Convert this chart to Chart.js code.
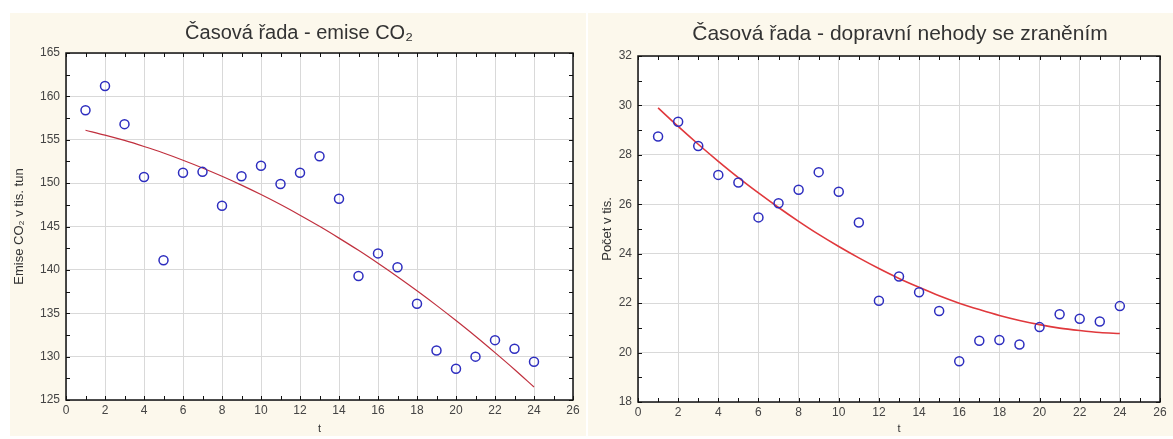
<!DOCTYPE html>
<html lang="cs">
<head>
<meta charset="utf-8">
<title>Časové řady</title>
<script src="https://cdn.jsdelivr.net/npm/chart.js@4.4.1/dist/chart.umd.min.js"></script>
<style>
  html, body { margin: 0; padding: 0; background: #ffffff; }
  .panel { position: absolute; background: #fcf8ec; }
  #p1 { left: 10px; top: 13px; width: 576px; height: 423px; }
  #p2 { left: 588px; top: 13px; width: 585px; height: 423px; }
  canvas { display: block; }
</style>
</head>
<body>
<div class="panel" id="p1"><canvas id="c1" width="576" height="423"></canvas></div>
<div class="panel" id="p2"><canvas id="c2" width="585" height="423"></canvas></div>
<script>
// Time index (years 1..24)
const t = [1,2,3,4,5,6,7,8,9,10,11,12,13,14,15,16,17,18,19,20,21,22,23,24];

// CO2 emissions, thousand tonnes
const co2 = [158.4,161.2,156.8,150.7,141.1,151.2,151.3,147.4,150.8,152.0,149.9,151.2,
             153.1,148.2,139.3,141.9,140.3,136.1,130.7,128.6,130.0,131.9,130.9,129.4];
// Quadratic trend of CO2 emissions
const co2Trend = [156.10,155.54,154.92,154.22,153.47,152.64,151.75,150.79,149.77,148.68,147.53,146.30,
                  145.02,143.66,142.25,140.76,139.21,137.59,135.91,134.16,132.35,130.46,128.52,126.50];

// Road accidents with injury, thousands
const nehody = [28.74,29.34,28.36,27.19,26.88,25.47,26.04,26.59,27.30,26.51,25.26,22.10,
                23.08,22.44,21.68,19.65,20.48,20.51,20.33,21.03,21.55,21.37,21.26,21.88];
// Quadratic trend of accidents
const nehodyTrend = [29.90,29.15,28.43,27.74,27.08,26.46,25.87,25.31,24.78,24.29,23.83,23.40,
                     23.00,22.64,22.30,22.00,21.74,21.50,21.30,21.13,20.99,20.89,20.81,20.77];

// Axis ranges and tick steps
const xTicks = { min: 0, max: 26, step: 2 };
const yTicksCO2 = { min: 125, max: 165, step: 5 };
const yTicksNehody = { min: 18, max: 32, step: 2 };

const FONT = "'Liberation Sans', Arial, sans-serif";

// Black frame around the plot area plus small inward tick marks on all four sides
const framePlugin = {
  id: 'frame',
  afterDraw(chart, args, opts) {
    const { ctx, chartArea: a, scales } = chart;
    ctx.save();
    ctx.strokeStyle = '#111';
    ctx.lineWidth = 1;
    ctx.beginPath();
    const xs = scales.x, ys = scales.y;
    for (let v = xs.min; v <= xs.max + 1e-9; v += opts.xMinor) {
      const px = Math.round(xs.getPixelForValue(v)) + 0.5;
      ctx.moveTo(px, a.bottom); ctx.lineTo(px, a.bottom - 4);
      ctx.moveTo(px, a.top); ctx.lineTo(px, a.top + 4);
    }
    for (let v = ys.min; v <= ys.max + 1e-9; v += opts.yMinor) {
      const py = Math.round(ys.getPixelForValue(v)) + 0.5;
      ctx.moveTo(a.left, py); ctx.lineTo(a.left + 4, py);
      ctx.moveTo(a.right, py); ctx.lineTo(a.right - 4, py);
    }
    ctx.stroke();
    ctx.lineWidth = 1.5;
    ctx.strokeRect(a.left, a.top, a.right - a.left, a.bottom - a.top);
    ctx.restore();
  }
};

// White plot area on the cream panel
const plotBgPlugin = {
  id: 'plotBg',
  beforeDraw(chart) {
    const { ctx, chartArea: a } = chart;
    ctx.save();
    ctx.fillStyle = '#ffffff';
    ctx.fillRect(a.left, a.top, a.right - a.left, a.bottom - a.top);
    ctx.restore();
  }
};

// Centre the title block horizontally on a chosen x position
const titleCenterPlugin = {
  id: 'titleCenter',
  afterLayout(chart, args, opts) {
    const tb = chart.titleBlock;
    if (!tb) return;
    const half = Math.min(opts.center, chart.width - opts.center);
    tb.left = opts.center - half;
    tb.right = opts.center + half;
    tb.width = tb.right - tb.left;
  }
};

function makeChart(id, cfg) {
  const pts = t.map((x, i) => ({ x, y: cfg.values[i] }));
  const trend = t.map((x, i) => ({ x, y: cfg.trend[i] }));
  return new Chart(document.getElementById(id), {
    type: 'scatter',
    data: {
      datasets: [
        {
          data: trend,
          showLine: true,
          borderColor: cfg.lineColor,
          borderWidth: cfg.lineWidth,
          pointRadius: 0,
          cubicInterpolationMode: 'monotone',
          fill: false,
          order: 2
        },
        {
          data: pts,
          pointStyle: 'circle',
          pointRadius: 4.5,
          pointBorderWidth: 1.5,
          pointBorderColor: '#2d2dbf',
          pointBackgroundColor: 'rgba(0,0,0,0)',
          order: 1
        }
      ]
    },
    options: {
      responsive: false,
      animation: false,
      layout: { padding: { left: 0, right: 13, top: 0, bottom: 0 } },
      plugins: {
        legend: { display: false },
        tooltip: { enabled: false },
        title: {
          display: true,
          text: cfg.title,
          color: '#333',
          font: { family: FONT, size: cfg.titleSize, weight: 'normal', lineHeight: 1.2 },
          padding: cfg.titlePadding
        },
        titleCenter: { center: cfg.titleCenter },
        frame: { xMinor: 1, yMinor: cfg.yMinor }
      },
      scales: {
        x: {
          type: 'linear',
          min: xTicks.min, max: xTicks.max,
          afterFit(s) { s.height = cfg.xHeight; },
          ticks: { stepSize: xTicks.step, color: '#444', padding: 3,
                   font: { family: FONT, size: 12 } },
          grid: { color: '#d9d9d9', lineWidth: 1, drawTicks: false },
          border: { display: false },
          title: { display: true, text: 't', color: '#333', padding: { top: 3, bottom: 0 },
                   font: { family: FONT, size: 11 } }
        },
        y: {
          type: 'linear',
          min: cfg.yRange.min, max: cfg.yRange.max,
          afterFit(s) { s.width = cfg.yWidth; },
          ticks: { stepSize: cfg.yRange.step, color: '#444', padding: 6,
                   font: { family: FONT, size: 12 } },
          grid: { color: '#d9d9d9', lineWidth: 1, drawTicks: false },
          border: { display: false },
          title: { display: true, text: cfg.yTitle, color: '#333', padding: cfg.yTitlePadding,
                   font: { family: FONT, size: 13 } }
        }
      }
    },
    plugins: [plotBgPlugin, framePlugin, titleCenterPlugin]
  });
}

makeChart('c1', {
  values: co2, trend: co2Trend,
  title: 'Časová řada - emise CO₂',
  yTitle: 'Emise CO₂ v tis. tun',
  yRange: yTicksCO2, yMinor: 2.5,
  lineColor: '#c0303e', lineWidth: 1.2,
  titleSize: 20, titlePadding: { top: 8, bottom: 8 }, titleCenter: 289,
  yTitlePadding: { top: 2, bottom: 2 },
  xHeight: 36, yWidth: 56
});

makeChart('c2', {
  values: nehody, trend: nehodyTrend,
  title: 'Časová řada - dopravní nehody se zraněním',
  yTitle: 'Počet v tis.',
  yRange: yTicksNehody, yMinor: 1,
  lineColor: '#e0383c', lineWidth: 1.6,
  titleSize: 21, titlePadding: { top: 9, bottom: 8.8 }, titleCenter: 312,
  yTitlePadding: { top: 12, bottom: 2 },
  xHeight: 34, yWidth: 50
});
</script>
</body>
</html>
